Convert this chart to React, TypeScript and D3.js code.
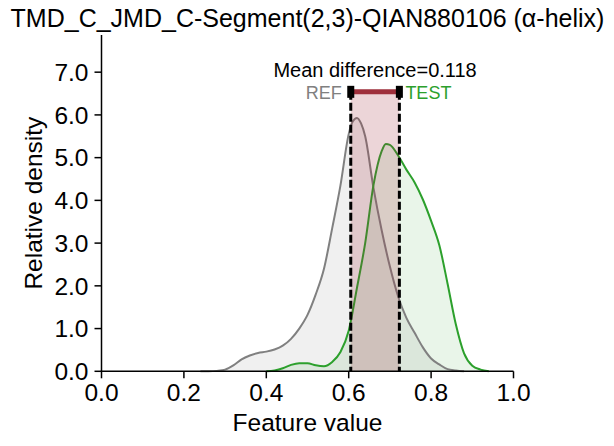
import * as d3 from "d3";
import React from "react";

// KDE estimates of the feature for the reference and test sets
const refX = [0.24, 0.26, 0.28, 0.3, 0.32, 0.34, 0.36, 0.38, 0.4, 0.42, 0.44, 0.46, 0.48, 0.5, 0.52, 0.54, 0.56, 0.58, 0.6, 0.61, 0.62, 0.63, 0.64, 0.66, 0.68, 0.7, 0.72, 0.74, 0.76, 0.78, 0.8, 0.82, 0.84, 0.86, 0.88];
const refY = [0.0, 0.0, 0.01, 0.04, 0.14, 0.28, 0.37, 0.43, 0.46, 0.51, 0.6, 0.76, 1.0, 1.32, 1.8, 2.4, 3.35, 4.35, 5.55, 5.85, 5.93, 5.8, 5.5, 4.3, 3.3, 2.45, 1.75, 1.25, 0.9, 0.56, 0.3, 0.16, 0.05, 0.02, 0.0];

const testX = [0.4, 0.42, 0.44, 0.46, 0.48, 0.5, 0.52, 0.54, 0.56, 0.58, 0.6, 0.62, 0.64, 0.66, 0.68, 0.69, 0.7, 0.72, 0.74, 0.76, 0.78, 0.8, 0.82, 0.84, 0.86, 0.88, 0.9, 0.92, 0.94];
const testY = [0.0, 0.02, 0.07, 0.15, 0.19, 0.19, 0.14, 0.12, 0.22, 0.45, 0.95, 1.95, 3.0, 4.35, 5.15, 5.32, 5.3, 5.05, 4.72, 4.42, 4.02, 3.52, 2.95, 2.05, 1.1, 0.42, 0.13, 0.04, 0.0];

const refMean = 0.605;
const testMean = 0.723;
const meanDiff = 0.118;
const barLevel = 6.54;

const xTicks = [0, 0.2, 0.4, 0.6, 0.8, 1.0];
const yTicks = [0, 1, 2, 3, 4, 5, 6, 7];

const W = 614;
const H = 446;
const font = "Arial, 'Liberation Sans', sans-serif";

const refColor = "#808080";
const testColor = "#2ca02c";
const diffColor = "#9e2f3b";

export default function App() {
  const x = d3.scaleLinear().domain([0, 1]).range([101.5, 513.5]);
  const y = d3.scaleLinear().domain([0, 7.87]).range([371.3, 35]);

  const ref = refX.map((v, i) => [v, refY[i]] as [number, number]);
  const test = testX.map((v, i) => [v, testY[i]] as [number, number]);

  const line = d3
    .line<[number, number]>()
    .x((d) => x(d[0]))
    .y((d) => y(d[1]))
    .curve(d3.curveMonotoneX);
  const area = d3
    .area<[number, number]>()
    .x((d) => x(d[0]))
    .y0(y(0))
    .y1((d) => y(d[1]))
    .curve(d3.curveMonotoneX);

  const x0 = x(refMean);
  const x1 = x(testMean);
  const yb = y(barLevel);
  const [left, right] = x.range();

  return (
    <svg
      width={W}
      height={H}
      style={{ position: "absolute", left: 0, top: 0, background: "#fff" }}
      fontFamily={font}
    >
      {/* densities */}
      <path d={area(ref) ?? undefined} fill={refColor} fillOpacity={0.12} />
      <path d={area(test) ?? undefined} fill={testColor} fillOpacity={0.1} />
      <path d={line(ref) ?? undefined} fill="none" stroke={refColor} strokeWidth={2} />
      <path d={line(test) ?? undefined} fill="none" stroke={testColor} strokeWidth={2} />

      {/* mean difference band */}
      <rect x={x0} y={yb} width={x1 - x0} height={y(0) - yb} fill={diffColor} fillOpacity={0.2} />
      {[x0, x1].map((cx, i) => (
        <line
          key={i}
          x1={cx}
          x2={cx}
          y1={yb}
          y2={y(0)}
          stroke="#000"
          strokeWidth={3}
          strokeDasharray="8 3"
        />
      ))}
      <line x1={x0} x2={x1} y1={yb} y2={yb} stroke={diffColor} strokeWidth={5} />
      {[x0, x1].map((cx, i) => (
        <rect key={i} x={cx - 3.5} y={yb - 6} width={7} height={12} fill="#000" />
      ))}
      <text x={(x0 + x1) / 2} y={77} textAnchor="middle" fontSize={20} fill="#000">
        Mean difference={meanDiff.toFixed(3)}
      </text>
      <text x={x0 - 9} y={99} textAnchor="end" fontSize={18} fill={refColor}>
        REF
      </text>
      <text x={x1 + 6} y={99} textAnchor="start" fontSize={18} fill={testColor}>
        TEST
      </text>

      {/* axes */}
      <line x1={left} x2={left} y1={y.range()[1]} y2={y(0) + 0.75} stroke="#000" strokeWidth={1.5} />
      <line x1={left - 0.75} x2={right} y1={y(0)} y2={y(0)} stroke="#000" strokeWidth={1.5} />
      {yTicks.map((t) => (
        <g key={t}>
          <line x1={left - 7} x2={left} y1={y(t)} y2={y(t)} stroke="#000" strokeWidth={1.5} />
          <text x={left - 13} y={y(t)} dy="0.36em" textAnchor="end" fontSize={24.5} fill="#000">
            {t.toFixed(1)}
          </text>
        </g>
      ))}
      {xTicks.map((t) => (
        <g key={t}>
          <line x1={x(t)} x2={x(t)} y1={y(0)} y2={y(0) + 7} stroke="#000" strokeWidth={1.5} />
          <text x={x(t)} y={401} textAnchor="middle" fontSize={24.5} fill="#000">
            {t.toFixed(1)}
          </text>
        </g>
      ))}
      <text x={(left + right) / 2} y={431} textAnchor="middle" fontSize={24.5} fill="#000">
        Feature value
      </text>
      <text
        transform={`translate(42,${(y.range()[0] + y.range()[1]) / 2}) rotate(-90)`}
        textAnchor="middle"
        fontSize={24.5}
        fill="#000"
      >
        Relative density
      </text>
      <text x={(left + right) / 2} y={27} textAnchor="middle" fontSize={25} fill="#000">
        TMD_C_JMD_C-Segment(2,3)-QIAN880106 (α-helix)
      </text>
    </svg>
  );
}
